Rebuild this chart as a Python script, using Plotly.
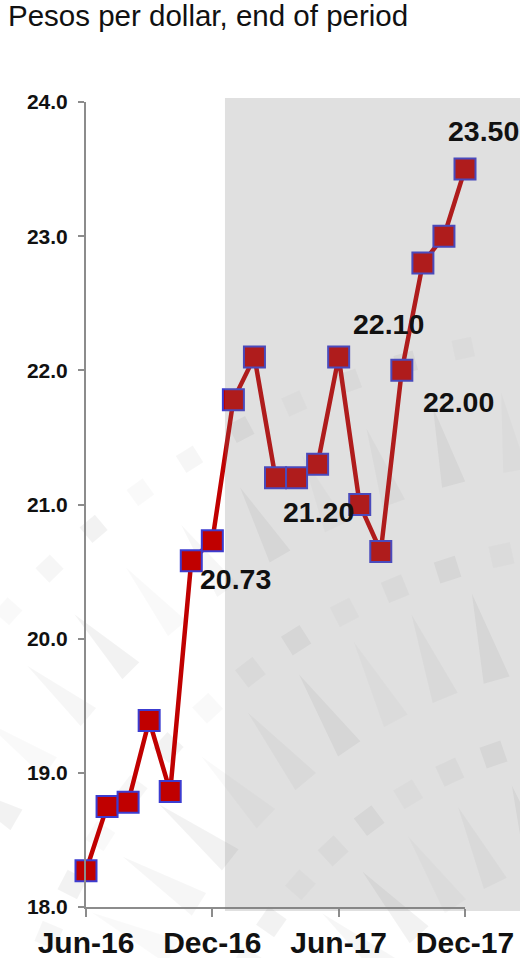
import math
import plotly.graph_objects as go

# Monthly exchange rate, pesos per US dollar (end of period)
months = ["Jun-16", "Jul-16", "Aug-16", "Sep-16", "Oct-16", "Nov-16", "Dec-16",
          "Jan-17", "Feb-17", "Mar-17", "Apr-17", "May-17", "Jun-17",
          "Jul-17", "Aug-17", "Sep-17", "Oct-17", "Nov-17", "Dec-17"]
rate = [18.27, 18.75, 18.78, 19.39, 18.86, 20.58, 20.73,
        21.78, 22.10, 21.20, 21.20, 21.30, 22.10,
        21.00, 20.65, 22.00, 22.80, 23.00, 23.50]

# Labelled points: (month, pixel offsets of the label from the marker)
labelled = [("Dec-16", 23, -38), ("Apr-17", 22, -34), ("Jun-17", 50, 33),
            ("Sep-17", 57, -32), ("Dec-17", 18, 38)]

y_ticks = [18, 19, 20, 21, 22, 23, 24]
x_major = ["Jun-16", "Dec-16", "Jun-17", "Dec-17"]
shade_from = 6.6  # projection band starts after Dec-16

FONT = "Liberation Sans, Arial, sans-serif"
W, H = 520, 958
ML, MR, MT, MB = 86, 55, 102, 51
xi = list(range(len(months)))
n = len(months) - 1


def to_paper(px, py):
    return (px - ML) / (W - ML - MR), (H - MB - py) / (H - MT - MB)


def poly_path(points):
    pts = [to_paper(*p) for p in points]
    return "M " + " L ".join(f"{x:.4f},{y:.4f}" for x, y in pts) + " Z"


# faint sunburst watermark of squares and spikes behind the chart
deco = []
cx, cy = 640, 1180
for k, (r, kind, step, size) in enumerate([
        (330, "spike", 8, 85), (450, "square", 6, 22), (520, "spike", 6, 90),
        (640, "square", 5, 22), (720, "spike", 5, 80), (850, "square", 4, 20)]):
    a = 100.0 + (k % 2) * step / 2
    j = 0
    while a < 190:
        t = math.radians(a)
        ux, uy = math.cos(t), -math.sin(t)       # outward direction
        vx, vy = -uy, ux                          # tangential direction
        bx, by = cx + r * ux, cy + r * uy
        if kind == "square":
            h = size / 2
            pts = [(bx + sx * h * ux + sy * h * vx, by + sx * h * uy + sy * h * vy)
                   for sx, sy in ((-1, -1), (1, -1), (1, 1), (-1, 1))]
        else:
            hw = size * 0.15
            pts = [(bx - hw * vx, by - hw * vy), (bx + hw * vx, by + hw * vy),
                   (bx + size * ux, by + size * uy)]
        op = (0.025, 0.05, 0.035)[j % 3]
        deco.append(dict(type="path", xref="paper", yref="paper",
                         path=poly_path(pts), fillcolor=f"rgba(0,0,0,{op})",
                         line=dict(width=0), layer="below"))
        a += step
        j += 1

fig = go.Figure()
fig.add_trace(go.Scatter(
    x=xi, y=rate, mode="lines+markers",
    line=dict(color="#c00000", width=4.5),
    marker=dict(symbol="square", size=21, color="#c00000",
                line=dict(color="#3c3cd0", width=2)),
    cliponaxis=False, showlegend=False, hoverinfo="skip",
))

for m, dx, dy in labelled:
    i = months.index(m)
    fig.add_annotation(
        x=i, y=rate[i], xref="x", yref="y",
        text=f"{rate[i]:.2f}", showarrow=False,
        xshift=dx, yshift=dy, xanchor="center", yanchor="middle",
        font=dict(family=FONT, size=28.5, color="#111111", weight="bold"),
    )

shapes = list(deco)
# translucent projection band, drawn over the series
shapes.append(dict(type="rect", xref="paper", yref="paper",
                   x0=shade_from / n, x1=1.3, y0=-0.005, y1=1.005,
                   fillcolor="rgba(122,122,122,0.23)", line=dict(width=0),
                   layer="above"))

fig.update_layout(
    width=W, height=H, autosize=False,
    margin=dict(l=ML, r=MR, t=MT, b=MB, autoexpand=False),
    paper_bgcolor="white", plot_bgcolor="rgba(0,0,0,0)",
    font=dict(family=FONT, color="#111111"),
    shapes=shapes,
    title=dict(text="Pesos per dollar, end of period",
               x=8 / W, xanchor="left", xref="container",
               y=1 - 16 / H, yanchor="middle", yref="container",
               automargin=False,
               font=dict(family=FONT, size=29.5, color="#111111")),
    xaxis=dict(range=[0, n], tickmode="array",
               tickvals=[months.index(m) for m in x_major], ticktext=x_major,
               ticks="outside", ticklen=8, tickwidth=2, tickcolor="#8c8c8c",
               showline=True, linecolor="#8c8c8c", linewidth=2,
               showgrid=False, zeroline=False, ticklabelstandoff=0,
               automargin=False,
               tickfont=dict(family=FONT, size=30, color="#111111", weight="bold")),
    xaxis2=dict(range=[0, n], overlaying="x", anchor="y", side="bottom",
                tickmode="array", tickvals=xi, ticktext=[""] * len(xi),
                ticks="inside", ticklen=6, tickwidth=2, tickcolor="#8c8c8c",
                showline=False, showgrid=False, zeroline=False,
                automargin=False),
    yaxis=dict(range=[18, 24], tickmode="array", tickvals=y_ticks,
               ticktext=[f"{v:.1f}" for v in y_ticks],
               ticks="outside", ticklen=6, tickwidth=2, tickcolor="#8c8c8c",
               showline=True, linecolor="#8c8c8c", linewidth=2,
               showgrid=False, zeroline=False, ticklabelstandoff=6,
               automargin=False,
               tickfont=dict(family=FONT, size=21, color="#111111", weight="bold")),
)

fig.write_html("out.html")
